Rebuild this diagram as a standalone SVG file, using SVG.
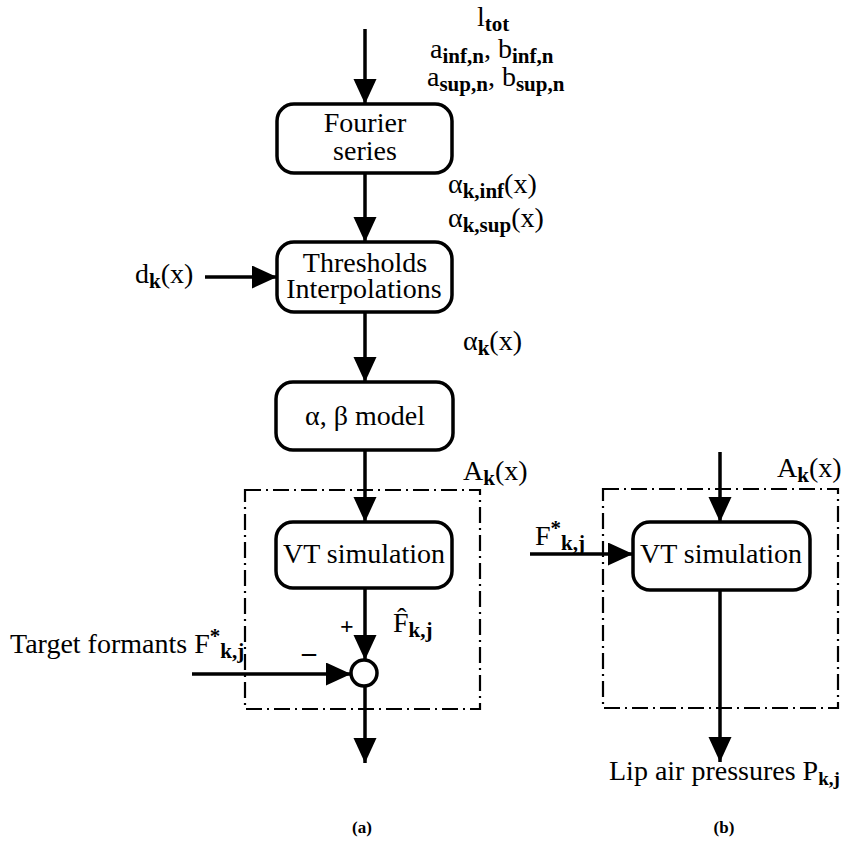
<svg xmlns="http://www.w3.org/2000/svg" width="844" height="843" viewBox="0 0 844 843">
<defs>
<marker id="ah" markerUnits="userSpaceOnUse" markerWidth="26" markerHeight="24" refX="25" refY="11.5" orient="auto">
<path d="M0,0 L25,11.5 L0,23 z" fill="#000"/>
</marker>
<style>
.box{fill:#fff;stroke:#000;stroke-width:3.5}
.dash{fill:none;stroke:#000;stroke-width:2.2;stroke-dasharray:16 5 2 5}
.arr{stroke:#000;stroke-width:3.5;fill:none;marker-end:url(#ah)}
text{font-family:"Liberation Serif","Times New Roman",serif;font-size:28px;fill:#000}
.c{text-anchor:middle}
.s{font-weight:bold;font-size:21px}
.lab{font-weight:bold;font-size:17px}
</style>
</defs>
<rect width="844" height="843" fill="#fff"/>

<g id="containers">
<rect class="dash" x="245" y="490" width="235" height="219"/>
<rect class="dash" x="603" y="489" width="235" height="219"/>
</g>

<g id="connectors">
<line class="arr" x1="365" y1="29" x2="365" y2="104"/>
<line class="arr" x1="365" y1="173" x2="365" y2="242"/>
<line class="arr" x1="205" y1="277" x2="277" y2="277"/>
<line class="arr" x1="365" y1="312" x2="365" y2="382"/>
<line class="arr" x1="365" y1="450" x2="365" y2="522"/>
<line class="arr" x1="365" y1="588" x2="365" y2="660"/>
<line class="arr" x1="192" y1="674" x2="351" y2="674"/>
<line class="arr" x1="365" y1="687" x2="365" y2="763"/>
<line class="arr" x1="720" y1="452" x2="720" y2="522"/>
<line class="arr" x1="530" y1="554" x2="633" y2="554"/>
<line class="arr" x1="720" y1="590" x2="720" y2="762"/>
</g>

<g id="fourier">
<rect class="box" x="277" y="104" width="175" height="69" rx="17"/>
<text class="c" x="365" y="132">Fourier</text>
<text class="c" x="365" y="160">series</text>
</g>

<g id="thresholds">
<rect class="box" x="277" y="242" width="175" height="70" rx="17"/>
<text class="c" x="365" y="272">Thresholds</text>
<text class="c" x="364" y="298">Interpolations</text>
</g>

<g id="model">
<rect class="box" x="276" y="382" width="177" height="68" rx="17"/>
<text class="c" x="365" y="425">α, β model</text>
</g>

<g id="vt-a">
<rect class="box" x="276" y="522" width="176" height="66" rx="17"/>
<text class="c" x="364" y="563">VT simulation</text>
</g>

<g id="sum">
<circle cx="364" cy="673" r="13" fill="#fff" stroke="#000" stroke-width="3.5"/>
<text x="340" y="634" style="font-weight:bold;font-size:24px">+</text>
<text x="302" y="661" style="font-weight:bold;font-size:28px">–</text>
</g>

<g id="vt-b">
<rect class="box" x="633" y="522" width="177" height="68" rx="17"/>
<text class="c" x="721" y="563">VT simulation</text>
</g>

<g id="labels">
<text x="477" y="26">l<tspan class="s" dy="5">tot</tspan></text>
<text x="430" y="58">a<tspan class="s" dy="5">inf,n</tspan><tspan dy="-5">, b</tspan><tspan class="s" dy="5">inf,n</tspan></text>
<text x="427" y="86">a<tspan class="s" dy="5">sup,n</tspan><tspan dy="-5">, b</tspan><tspan class="s" dy="5">sup,n</tspan></text>
<text x="448" y="193">α<tspan class="s" dy="5">k,inf</tspan><tspan dy="-5">(x)</tspan></text>
<text x="448" y="227">α<tspan class="s" dy="5">k,sup</tspan><tspan dy="-5">(x)</tspan></text>
<text x="135" y="283">d<tspan class="s" dy="5">k</tspan><tspan dy="-5">(x)</tspan></text>
<text x="463" y="350">α<tspan class="s" dy="5">k</tspan><tspan dy="-5">(x)</tspan></text>
<text x="463" y="480">A<tspan class="s" dy="5">k</tspan><tspan dy="-5">(x)</tspan></text>
<text x="777" y="477">A<tspan class="s" dy="5">k</tspan><tspan dy="-5">(x)</tspan></text>
<text x="393" y="632">F̂<tspan class="s" dy="5">k,j</tspan></text>
<text x="10" y="653">Target formants F<tspan class="s" dy="-10">*</tspan><tspan class="s" dy="15">k,j</tspan></text>
<text x="535" y="545">F<tspan class="s" dy="-10">*</tspan><tspan class="s" dy="15">k,j</tspan></text>
<text x="609" y="780">Lip air pressures P<tspan class="s" dy="5" style="font-size:19px">k,j</tspan></text>
<text class="lab c" x="362" y="833">(a)</text>
<text class="lab c" x="724" y="833">(b)</text>
</g>
</svg>
